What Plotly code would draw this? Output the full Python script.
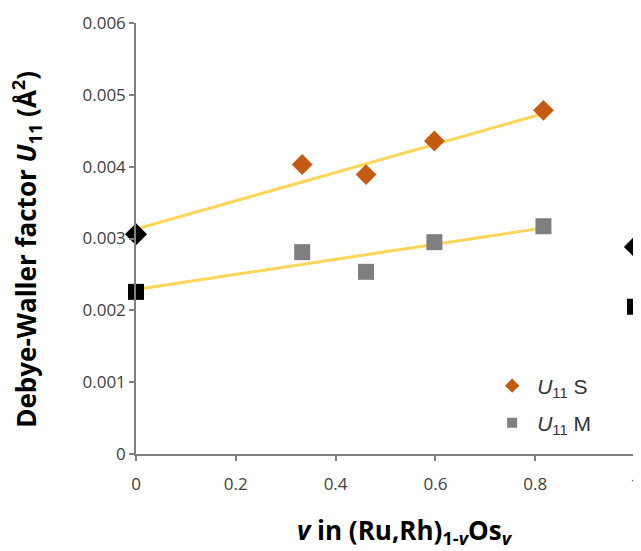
import numpy as np
import plotly.graph_objects as go

# ---- data ----
v_S = [0.333, 0.461, 0.598, 0.8165]
U11_S = [0.00403, 0.00389, 0.004357, 0.004784]
v_M = [0.333, 0.461, 0.598, 0.8165]
U11_M = [0.00281, 0.002536, 0.002949, 0.003171]

# end members (black markers)
v_end = [0.0, 1.0]
U11_S_end = [0.00306, 0.002883]
U11_M_end = [0.002257, 0.00205]

# linear trend lines (yellow) drawn over 0..0.8165
trend_x = [0.0, 0.8165]
trend_S = [0.00313, 0.00474]
trend_M = [0.00229, 0.003148]

x_ticks = [0, 0.2, 0.4, 0.6, 0.8, 1]
x_ticktext = ["0", "0.2", "0.4", "0.6", "0.8", "1"]
y_ticks = [0, 0.001, 0.002, 0.003, 0.004, 0.005, 0.006]
y_ticktext = ["0", "0.001", "0.002", "0.003", "0.004", "0.005", "0.006"]

ORANGE = "#C55A11"
GRAY = "#7F7F7F"
YELLOW = "#FFD558"
AXIS = "#7F7F7F"
TICKFONT = dict(family="Open Sans, Lato, sans-serif", size=17, color="#404040")

# the page body has an 8px margin; work in page pixels and shift
OFF = 8
W, H = 641 - OFF, 551 - OFF
L, T = 135.5 - OFF, 22.7 - OFF
R = W - (635 - OFF)
B = H - (454 - OFF)
pw, ph = W - L - R, H - T - B


def px(xp):
    return (xp - OFF - L) / pw


def py(yp):
    return (H - B - (yp - OFF)) / ph


fig = go.Figure()

fig.add_trace(go.Scatter(x=trend_x, y=trend_S, mode="lines",
                         line=dict(color=YELLOW, width=3), showlegend=False,
                         cliponaxis=False))
fig.add_trace(go.Scatter(x=trend_x, y=trend_M, mode="lines",
                         line=dict(color=YELLOW, width=3), showlegend=False,
                         cliponaxis=False))

fig.add_trace(go.Scatter(x=v_S, y=U11_S, mode="markers",
                         marker=dict(symbol="diamond", size=16, color=ORANGE),
                         showlegend=False, cliponaxis=False))
fig.add_trace(go.Scatter(x=v_M, y=U11_M, mode="markers",
                         marker=dict(symbol="square", size=16, color=GRAY),
                         showlegend=False, cliponaxis=False))

fig.add_trace(go.Scatter(x=v_end, y=U11_S_end, mode="markers",
                         marker=dict(symbol="diamond", size=17, color="black"),
                         showlegend=False, cliponaxis=False))
fig.add_trace(go.Scatter(x=v_end, y=U11_M_end, mode="markers",
                         marker=dict(symbol="square", size=16, color="black"),
                         showlegend=False, cliponaxis=False))

# legend-only entries (smaller markers)
fig.add_trace(go.Scatter(x=[None], y=[None], mode="markers",
                         marker=dict(symbol="diamond", size=11, color=ORANGE),
                         name="<i>U</i><sub>11</sub> S", legend="legend"))
fig.add_trace(go.Scatter(x=[None], y=[None], mode="markers",
                         marker=dict(symbol="square", size=10, color=GRAY),
                         name="<i>U</i><sub>11</sub> M", legend="legend2"))

legend_common = dict(font=dict(family="Liberation Sans, Arial, sans-serif", size=21, color="#333333"),
                     bgcolor="rgba(0,0,0,0)", xanchor="left", yanchor="middle",
                     itemclick=False, itemwidth=40)

fig.update_layout(
    width=W, height=H,
    margin=dict(l=L, r=R, t=T, b=B, autoexpand=False),
    paper_bgcolor="white", plot_bgcolor="white",
    xaxis=dict(range=[0, 1], tickvals=x_ticks, ticktext=x_ticktext,
               showgrid=False, zeroline=False, showline=True, linecolor=AXIS, linewidth=1.5,
               ticks="outside", ticklen=5, tickcolor=AXIS, tickwidth=1.5,
               tickfont=TICKFONT, ticklabelstandoff=9, automargin=False,
               ticklabeloverflow="allow"),
    yaxis=dict(range=[0, 0.006], tickvals=y_ticks, ticktext=y_ticktext,
               showgrid=False, zeroline=False, showline=True, linecolor=AXIS, linewidth=1.5,
               ticks="outside", ticklen=5, tickcolor=AXIS, tickwidth=1.5,
               tickfont=TICKFONT, automargin=False, ticklabeloverflow="allow"),
    legend=dict(x=px(487), y=py(386), **legend_common),
    legend2=dict(x=px(487), y=py(423), **legend_common),
    annotations=[
        dict(text="<b><i>v</i> in (Ru,Rh)<sub>1-<i>v</i></sub>Os<sub><i>v</i></sub></b>",
             x=px(405), y=py(531), xref="paper", yref="paper",
             xanchor="center", yanchor="middle", showarrow=False,
             font=dict(family="Open Sans, sans-serif", size=26, color="black")),
        dict(text="<b>Debye-Waller factor <i>U</i><sub>11</sub> (Å<sup>2</sup>)</b>",
             x=px(26), y=py(249), xref="paper", yref="paper",
             xanchor="center", yanchor="middle", showarrow=False, textangle=-90,
             font=dict(family="Open Sans, sans-serif", size=26, color="black")),
    ],
)

fig.write_html("out.html")
